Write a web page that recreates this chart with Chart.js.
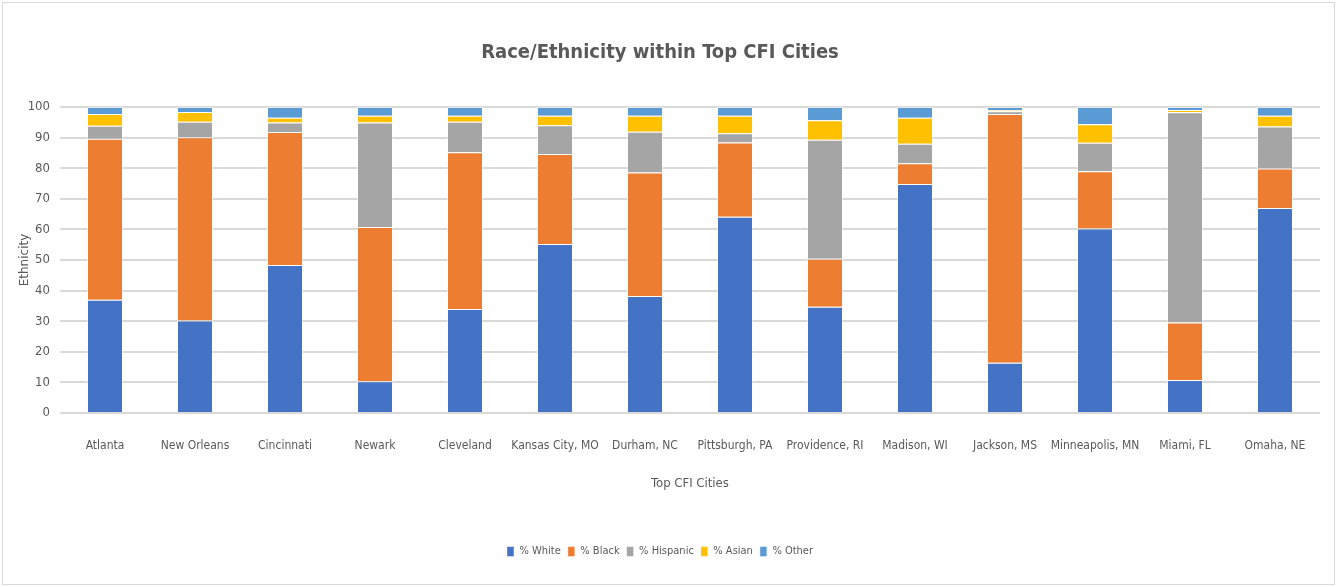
<!DOCTYPE html>
<html>
<head>
<meta charset="utf-8">
<script src="https://cdn.jsdelivr.net/npm/chart.js@4.4.1/dist/chart.umd.min.js"></script>
<style>
  html, body { margin: 0; padding: 0; background: #fff; }
  #wrap { width: 1337px; height: 587px; position: relative; }
</style>
</head>
<body>
<div id="wrap"><canvas id="race-chart"></canvas></div>
<script>
const cities = ['Atlanta', 'New Orleans', 'Cincinnati', 'Newark', 'Cleveland', 'Kansas City, MO',
    'Durham, NC', 'Pittsburgh, PA', 'Providence, RI', 'Madison, WI', 'Jackson, MS',
    'Minneapolis, MN', 'Miami, FL', 'Omaha, NE'];

const pctWhite    = [37.0, 30.2, 48.4, 10.4, 34.0, 55.2, 38.2, 64.1, 34.7, 74.8, 16.4, 60.3, 10.8, 67.0];
const pctBlack    = [52.6, 59.9, 43.4, 50.4, 51.2, 29.4, 40.4, 24.3, 15.7, 6.8, 81.3, 18.7, 18.8, 12.9];
const pctHispanic = [4.3, 5.1, 3.1, 34.1, 10.0, 9.4, 13.3, 3.0, 38.9, 6.4, 0.9, 9.3, 68.7, 13.7];
const pctAsian    = [3.8, 3.2, 1.6, 2.2, 1.9, 3.1, 5.2, 5.7, 6.4, 8.5, 0.4, 6.1, 0.7, 3.5];
const pctOther    = [2.3, 1.6, 3.5, 2.9, 2.9, 2.9, 2.9, 2.9, 4.3, 3.5, 1.0, 5.6, 1.0, 2.9];

const yTicks = [0, 10, 20, 30, 40, 50, 60, 70, 80, 90, 100];

const narrow = "'Liberation Sans Narrow', 'DejaVu Sans Condensed', sans-serif";
const textColor = '#595959';

function series(label, data, color) {
    return {
        label: label,
        data: data,
        backgroundColor: color,
        borderColor: 'rgba(255,255,255,0.45)',
        borderWidth: 1,
        barPercentage: 0.4,
        categoryPercentage: 1.0
    };
}

// light frame round the whole chart
const framePlugin = {
    id: 'frame',
    beforeDraw(chart) {
        const ctx = chart.ctx;
        ctx.save();
        ctx.strokeStyle = '#d9d9d9';
        ctx.lineWidth = 1;
        ctx.strokeRect(2.5, 2.5, chart.width - 5, chart.height - 5);
        ctx.restore();
    }
};

const canvas = document.getElementById('race-chart');
new Chart(canvas, {
    type: 'bar',
    data: {
        labels: cities,
        datasets: [
            series('% White', pctWhite, '#4472C4'),
            series('% Black', pctBlack, '#ED7D31'),
            series('% Hispanic', pctHispanic, '#A5A5A5'),
            series('% Asian', pctAsian, '#FFC000'),
            series('% Other', pctOther, '#5B9BD5')
        ]
    },
    options: {
        responsive: true,
        maintainAspectRatio: false,
        animation: false,
        layout: {
            padding: { left: 0, right: 17, top: 0, bottom: 20 }
        },
        scales: {
            x: {
                stacked: true,
                grid: { display: false, drawTicks: false },
                border: { display: false },
                ticks: {
                    color: textColor,
                    font: { family: narrow, size: 12 },
                    padding: 26,
                    maxRotation: 0,
                    autoSkip: false
                },
                title: {
                    display: true,
                    text: 'Top CFI Cities',
                    color: textColor,
                    font: { family: narrow, size: 13 },
                    padding: { top: 0, bottom: 48 }
                },
                afterFit(scale) { scale.height = 126; }
            },
            y: {
                stacked: true,
                min: 0,
                max: 100,
                afterBuildTicks(scale) { scale.ticks = yTicks.map(v => ({ value: v })); },
                grid: { color: '#d9d9d9', lineWidth: 2, drawTicks: false },
                border: { display: false },
                ticks: {
                    color: textColor,
                    font: { family: narrow, size: 13 },
                    padding: 10
                },
                title: {
                    display: true,
                    text: 'Ethnicity',
                    color: textColor,
                    font: { family: 'DejaVu Sans', size: 12 },
                    padding: { top: 18, bottom: 0 }
                },
                afterFit(scale) { scale.width = 60; }
            }
        },
        plugins: {
            title: {
                display: true,
                text: 'Race/Ethnicity within Top CFI Cities',
                color: textColor,
                font: { family: narrow, size: 20, weight: 'bold' },
                padding: { top: 41, bottom: 42 }
            },
            legend: {
                position: 'bottom',
                labels: {
                    color: textColor,
                    font: { family: narrow, size: 11 },
                    boxWidth: 7,
                    boxHeight: 10,
                    padding: 7
                }
            },
            tooltip: { enabled: true }
        }
    },
    plugins: [framePlugin]
});
</script>
</body>
</html>
